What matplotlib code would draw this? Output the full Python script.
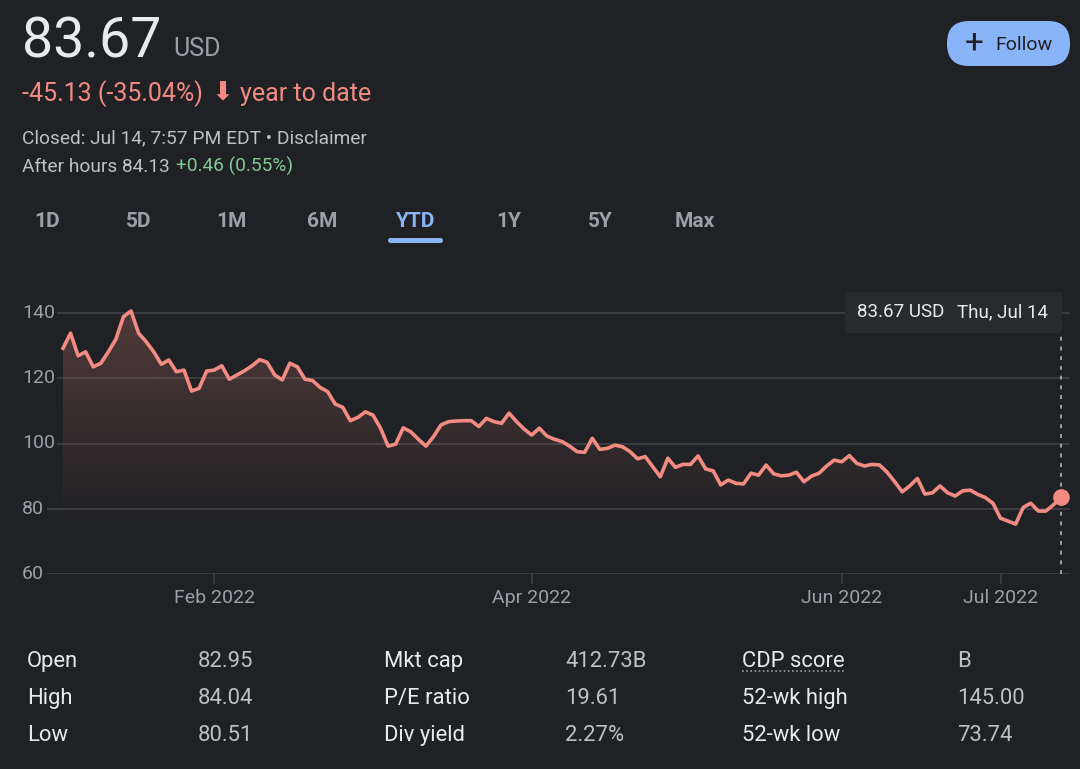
import numpy as np
import pandas as pd
import matplotlib
matplotlib.use('Agg')
import matplotlib.pyplot as plt
from matplotlib.patches import FancyBboxPatch, Polygon
from matplotlib.transforms import blended_transform_factory

# closing prices, one per trading day, Jan 3 - Jul 14 2022
prices = [129.2, 133.8, 126.9, 128.1, 123.5, 124.6, 128.1, 132.0, 138.9, 140.6,
          133.8, 131.2, 128.1, 124.3, 125.6, 122.0, 122.5, 116.1, 116.9, 122.2,
          122.5, 123.8, 119.7, 121.0, 122.3, 123.8, 125.7, 124.9, 121.0, 119.5,
          124.6, 123.5, 119.7, 119.3, 117.2, 115.9, 112.1, 111.1, 107.0, 108.0,
          109.7, 108.7, 104.7, 99.2, 99.8, 104.8, 103.6, 101.3, 99.2, 102.1,
          105.7, 106.7, 106.9, 107.0, 107.0, 105.2, 107.7, 106.7, 106.2, 109.3,
          106.7, 104.4, 102.6, 104.7, 102.3, 101.3, 100.6, 99.2, 97.5, 97.3,
          101.6, 98.2, 98.5, 99.5, 99.0, 97.5, 95.3, 96.0, 92.9, 89.8,
          95.5, 92.7, 93.6, 93.6, 96.2, 92.2, 91.6, 87.3, 88.8, 87.8,
          87.6, 90.9, 90.3, 93.4, 90.7, 90.1, 90.3, 91.2, 88.3, 90.0,
          90.9, 93.1, 94.9, 94.4, 96.3, 93.9, 93.1, 93.6, 93.4, 91.2,
          88.3, 85.2, 87.0, 89.3, 84.5, 84.9, 87.0, 84.9, 83.9, 85.5,
          85.7, 84.4, 83.4, 81.7, 77.1, 76.2, 75.3, 80.4, 81.7, 79.3,
          79.3, 81.2, 83.67]
holidays = ['2022-01-17', '2022-02-21', '2022-04-15', '2022-05-30', '2022-06-20', '2022-07-04']
dates = pd.bdate_range('2022-01-03', '2022-07-14', freq='C', holidays=holidays)
tick_months = [2, 4, 6, 7]
y_ticks = [60, 80, 100, 120, 140]

tabs = ['1D', '5D', '1M', '6M', 'YTD', '1Y', '5Y', 'Max']
table_rows = [
    ['Open', '82.95', 'Mkt cap', '412.73B', 'CDP score', 'B'],
    ['High', '84.04', 'P/E ratio', '19.61', '52-wk high', '145.00'],
    ['Low', '80.51', 'Div yield', '2.27%', '52-wk low', '73.74'],
]

BG = '#202124'
GRID = '#3c4043'
LIGHT = '#e8eaed'
GREY = '#9aa0a6'
VAL = '#bdc1c6'
RED = '#f28b82'
GREEN = '#81c995'
BLUE = '#8ab4f8'

plt.rcParams['font.family'] = ['Roboto', 'DejaVu Sans']

W, H = 1080, 769
fig = plt.figure(figsize=(W / 100, H / 100), dpi=100, facecolor=BG)


def fx(x):
    return x / W


def fy(y):
    return 1 - y / H


# ---- header ----
fig.text(fx(22), fy(57), '83.67', color=LIGHT, fontsize=40, va='baseline')
fig.text(fx(173), fy(56), 'USD', color=GREY, fontsize=18, va='baseline')
fig.text(fx(22), fy(101), '-45.13 (-35.04%)', color=RED, fontsize=18, va='baseline')
fig.text(fx(223), fy(93), '\u2B07', color=RED, fontsize=19, ha='center', va='center',
         family='DejaVu Sans')
fig.text(fx(240), fy(101), 'year to date', color=RED, fontsize=18, va='baseline')
fig.text(fx(22), fy(143), 'Closed: Jul 14, 7:57 PM EDT \u2022 Disclaimer', color=VAL,
         fontsize=13.8, va='baseline')
fig.text(fx(22), fy(172), 'After hours 84.13', color=VAL, fontsize=13.8, va='baseline')
fig.text(fx(176), fy(172), '+0.46 (0.55%)', color=GREEN, fontsize=13.8, va='baseline')

# follow button
fig.patches.append(FancyBboxPatch((947, H - 66), 123, 45, boxstyle='round,pad=0,rounding_size=22',
                                  fc=BLUE, ec='none', transform=None))
fig.text(fx(974), fy(44), '+', color=BG, fontsize=24, ha='center', va='center')
fig.text(fx(995), fy(50), 'Follow', color=BG, fontsize=14, va='baseline')

# range tabs
tab_x = [47, 139, 231, 322, 415, 509, 600, 695]
for lab, x in zip(tabs, tab_x):
    fig.text(fx(x), fy(227), lab, color=BLUE if lab == 'YTD' else GREY, fontsize=15,
             fontweight='bold', ha='center', va='baseline')
fig.patches.append(FancyBboxPatch((388, H - 243), 55, 5, boxstyle='round,pad=0,rounding_size=2.5',
                                  fc=BLUE, ec='none', transform=None))

# ---- chart ----
x = np.arange(len(prices))
px_per = (1061 - 63) / (len(prices) - 1)
ax = fig.add_axes([fx(47), fy(574), (1070 - 47) / W, (574 - 280) / H])
ax.set_facecolor(BG)
ax.set_xlim((47 - 63) / px_per, (1070 - 63) / px_per)
ax.set_ylim(60, 60 + (574 - 280) / 65.25 * 20)
for s in ax.spines.values():
    s.set_visible(False)

ax.set_yticks(y_ticks)
ax.tick_params(axis='y', length=0, labelleft=False)
ax.grid(axis='y', color=GRID, lw=1.3)
ax.set_axisbelow(True)
tr = blended_transform_factory(fig.transFigure, ax.transData)
for v in y_ticks:
    ax.text(fx(22), v, str(v), transform=tr, color=GREY, fontsize=14, ha='left', va='center',
            bbox=dict(fc=BG, ec='none', pad=1.5), zorder=4)

tick_pos = [int(np.argmax(dates.month == m)) for m in tick_months]
tick_lab = [dates[i].strftime('%b %Y') for i in tick_pos]
ax.set_xticks(tick_pos, tick_lab)
ax.tick_params(axis='x', length=7, width=1.2, color=GRID, labelcolor=GREY, labelsize=14, pad=4)

# gradient fill under the line
base = min(prices)
top = max(prices)
grad = np.zeros((256, 1, 4))
grad[..., 0] = 242 / 255
grad[..., 1] = 139 / 255
grad[..., 2] = 130 / 255
grad[:, 0, 3] = np.linspace(0.0, 0.25, 256)
img = ax.imshow(grad, extent=[x[0], x[-1], base, top + 4], aspect='auto', origin='lower', zorder=1)
verts = np.vstack([[x[0], base], np.column_stack([x, prices]), [x[-1], base]])
clip = Polygon(verts, closed=True, transform=ax.transData, fc='none', ec='none')
ax.add_patch(clip)
img.set_clip_path(clip)

ax.plot(x, prices, color=RED, lw=2.6, solid_joinstyle='round', zorder=3)
ax.plot(x[-1], prices[-1], 'o', color=RED, ms=11, zorder=5)
ax.axvline(x[-1], ymin=0, ymax=(574 - 332) / (574 - 280), color=GREY, lw=1.4,
           ls=(0, (2, 3)), zorder=2)

# tooltip
fig.patches.append(FancyBboxPatch((845, H - 333), 217, 41, boxstyle='round,pad=0,rounding_size=3',
                                  fc='#292a2d', ec='none', transform=None))
fig.text(fx(857), fy(317), '83.67 USD', color=LIGHT, fontsize=13.5, va='baseline')
fig.text(fx(957), fy(317), 'Thu, Jul 14', color=LIGHT, fontsize=13.5, va='baseline')

# ---- key stats table ----
col_x = [27, 198, 384, 565, 742, 957]
row_y = [667, 704, 741]
for row, y in zip(table_rows, row_y):
    for j, (cell, cx) in enumerate(zip(row, col_x)):
        fig.text(fx(cx), fy(y), cell, color=LIGHT if j % 2 == 0 else VAL, fontsize=15.8,
                 va='baseline')
fig.lines.append(plt.Line2D([fx(742), fx(846)], [fy(671), fy(671)], transform=fig.transFigure,
                            color=GREY, lw=1.2, ls=(0, (1, 1.5))))

fig.savefig('out.png', dpi=100, facecolor=BG)
